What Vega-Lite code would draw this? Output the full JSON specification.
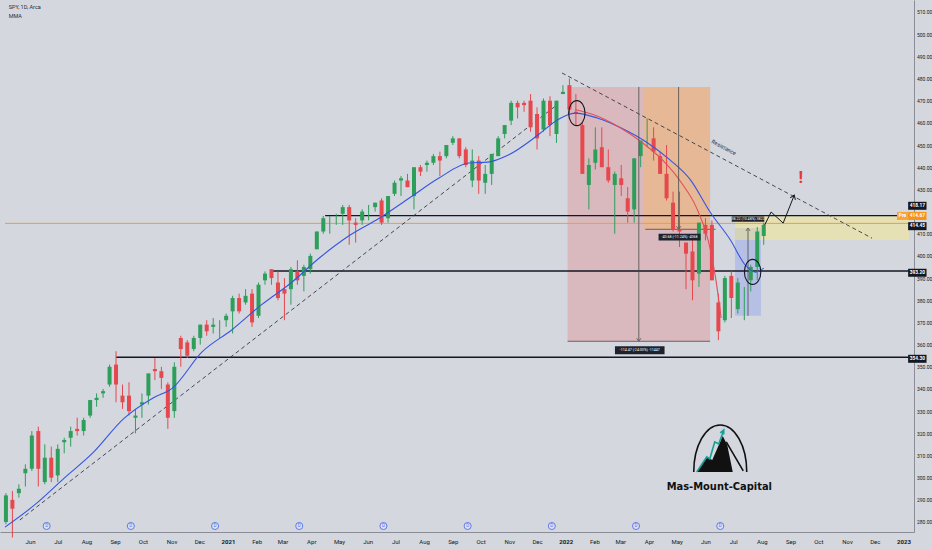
{
  "$schema": "https://vega.github.io/schema/vega-lite/v6.json",
  "width": 914,
  "height": 532,
  "padding": {"left": 0, "top": 0, "right": 18, "bottom": 18},
  "autosize": {"type": "none"},
  "background": "#d4d7de",
  "config": {"view": {"stroke": null}, "font": "Roboto"},
  "datasets": {
    "candles": [
      {"d":"2020-05-06","o":280,"h":293,"l":279,"c":292},
      {"d":"2020-05-13","o":290,"h":294,"l":273,"c":286},
      {"d":"2020-05-20","o":293,"h":297,"l":291,"c":295},
      {"d":"2020-05-27","o":302,"h":306,"l":296,"c":304},
      {"d":"2020-06-03","o":304,"h":321,"l":303,"c":319},
      {"d":"2020-06-10","o":321,"h":323,"l":296,"c":304},
      {"d":"2020-06-17","o":298,"h":315,"l":297,"c":309},
      {"d":"2020-06-24","o":309,"h":314,"l":298,"c":300},
      {"d":"2020-07-01","o":301,"h":315,"l":298,"c":313},
      {"d":"2020-07-08","o":316,"h":318,"l":311,"c":317},
      {"d":"2020-07-15","o":318,"h":323,"l":314,"c":321},
      {"d":"2020-07-22","o":322,"h":327,"l":319,"c":321},
      {"d":"2020-07-29","o":321,"h":327,"l":319,"c":326},
      {"d":"2020-08-05","o":328,"h":335,"l":327,"c":335},
      {"d":"2020-08-12","o":335,"h":338,"l":332,"c":336},
      {"d":"2020-08-19","o":338,"h":340,"l":336,"c":339},
      {"d":"2020-08-26","o":342,"h":351,"l":341,"c":350},
      {"d":"2020-09-02","o":351,"h":357,"l":334,"c":342},
      {"d":"2020-09-09","o":337,"h":342,"l":331,"c":334},
      {"d":"2020-09-16","o":337,"h":343,"l":328,"c":330},
      {"d":"2020-09-23","o":327,"h":331,"l":320,"c":328},
      {"d":"2020-09-30","o":333,"h":338,"l":327,"c":334},
      {"d":"2020-10-07","o":337,"h":347,"l":333,"c":347},
      {"d":"2020-10-14","o":349,"h":354,"l":344,"c":348},
      {"d":"2020-10-21","o":348,"h":350,"l":340,"c":345},
      {"d":"2020-10-28","o":342,"h":343,"l":322,"c":327},
      {"d":"2020-11-04","o":330,"h":352,"l":327,"c":350},
      {"d":"2020-11-11","o":363,"h":364,"l":350,"c":358},
      {"d":"2020-11-18","o":361,"h":362,"l":354,"c":355},
      {"d":"2020-11-25","o":358,"h":364,"l":357,"c":363},
      {"d":"2020-12-02","o":363,"h":369,"l":360,"c":369},
      {"d":"2020-12-09","o":369,"h":371,"l":364,"c":366},
      {"d":"2020-12-16","o":368,"h":372,"l":365,"c":369},
      {"d":"2020-12-23","o":369,"h":371,"l":363,"c":369},
      {"d":"2020-12-30","o":371,"h":374,"l":368,"c":373},
      {"d":"2021-01-06","o":375,"h":382,"l":365,"c":381},
      {"d":"2021-01-13","o":381,"h":383,"l":374,"c":375},
      {"d":"2021-01-20","o":379,"h":385,"l":378,"c":382},
      {"d":"2021-01-27","o":383,"h":385,"l":368,"c":370},
      {"d":"2021-02-03","o":373,"h":388,"l":372,"c":387},
      {"d":"2021-02-10","o":389,"h":393,"l":387,"c":392},
      {"d":"2021-02-17","o":394,"h":394,"l":387,"c":390},
      {"d":"2021-02-24","o":388,"h":393,"l":380,"c":381},
      {"d":"2021-03-03","o":385,"h":390,"l":371,"c":383},
      {"d":"2021-03-10","o":385,"h":395,"l":378,"c":394},
      {"d":"2021-03-17","o":393,"h":398,"l":387,"c":389},
      {"d":"2021-03-24","o":391,"h":396,"l":384,"c":395},
      {"d":"2021-03-31","o":394,"h":401,"l":392,"c":400},
      {"d":"2021-04-07","o":403,"h":411,"l":403,"c":411},
      {"d":"2021-04-14","o":411,"h":418,"l":410,"c":417},
      {"d":"2021-04-21","o":416,"h":418,"l":410,"c":416},
      {"d":"2021-04-28","o":418,"h":419,"l":414,"c":418},
      {"d":"2021-05-05","o":419,"h":423,"l":414,"c":422},
      {"d":"2021-05-12","o":422,"h":423,"l":405,"c":416},
      {"d":"2021-05-19","o":415,"h":417,"l":406,"c":414},
      {"d":"2021-05-26","o":416,"h":421,"l":414,"c":420},
      {"d":"2021-06-02","o":422,"h":423,"l":416,"c":422},
      {"d":"2021-06-09","o":422,"h":424,"l":420,"c":424},
      {"d":"2021-06-16","o":425,"h":426,"l":414,"c":415},
      {"d":"2021-06-23","o":417,"h":427,"l":415,"c":427},
      {"d":"2021-06-30","o":428,"h":434,"l":427,"c":433},
      {"d":"2021-07-07","o":434,"h":436,"l":427,"c":435},
      {"d":"2021-07-14","o":434,"h":437,"l":431,"c":431},
      {"d":"2021-07-21","o":427,"h":440,"l":421,"c":440},
      {"d":"2021-07-28","o":440,"h":441,"l":436,"c":438},
      {"d":"2021-08-04","o":441,"h":443,"l":438,"c":442},
      {"d":"2021-08-11","o":442,"h":446,"l":441,"c":445},
      {"d":"2021-08-18","o":445,"h":447,"l":436,"c":443},
      {"d":"2021-08-25","o":445,"h":450,"l":444,"c":450},
      {"d":"2021-09-01","o":451,"h":454,"l":450,"c":453},
      {"d":"2021-09-08","o":453,"h":453,"l":444,"c":445},
      {"d":"2021-09-15","o":448,"h":449,"l":440,"c":441},
      {"d":"2021-09-22","o":434,"h":448,"l":431,"c":443},
      {"d":"2021-09-29","o":443,"h":445,"l":428,"c":434},
      {"d":"2021-10-06","o":433,"h":441,"l":428,"c":437},
      {"d":"2021-10-13","o":437,"h":446,"l":432,"c":446},
      {"d":"2021-10-20","o":445,"h":454,"l":445,"c":453},
      {"d":"2021-10-27","o":455,"h":459,"l":453,"c":459},
      {"d":"2021-11-03","o":461,"h":470,"l":459,"c":469},
      {"d":"2021-11-10","o":469,"h":470,"l":462,"c":467},
      {"d":"2021-11-17","o":469,"h":470,"l":465,"c":468},
      {"d":"2021-11-24","o":470,"h":473,"l":456,"c":458},
      {"d":"2021-12-01","o":464,"h":467,"l":448,"c":453},
      {"d":"2021-12-08","o":457,"h":471,"l":456,"c":470},
      {"d":"2021-12-15","o":470,"h":472,"l":454,"c":459},
      {"d":"2021-12-22","o":455,"h":470,"l":451,"c":470},
      {"d":"2021-12-29","o":473,"h":477,"l":473,"c":474},
      {"d":"2022-01-05","o":477,"h":480,"l":464,"c":466},
      {"d":"2022-01-12","o":465,"h":473,"l":459,"c":464},
      {"d":"2022-01-19","o":459,"h":460,"l":437,"c":437},
      {"d":"2022-01-26","o":432,"h":444,"l":421,"c":441},
      {"d":"2022-02-02","o":442,"h":458,"l":439,"c":448},
      {"d":"2022-02-09","o":449,"h":458,"l":440,"c":440},
      {"d":"2022-02-16","o":440,"h":448,"l":433,"c":434},
      {"d":"2022-02-23","o":432,"h":438,"l":410,"c":437},
      {"d":"2022-03-02","o":435,"h":441,"l":427,"c":432},
      {"d":"2022-03-09","o":426,"h":431,"l":415,"c":420},
      {"d":"2022-03-16","o":421,"h":444,"l":415,"c":444},
      {"d":"2022-03-23","o":445,"h":452,"l":440,"c":452},
      {"d":"2022-03-30","o":452,"h":462,"l":449,"c":452},
      {"d":"2022-04-06","o":453,"h":458,"l":443,"c":447},
      {"d":"2022-04-13","o":445,"h":447,"l":437,"c":437},
      {"d":"2022-04-20","o":437,"h":450,"l":425,"c":426},
      {"d":"2022-04-27","o":424,"h":429,"l":411,"c":412},
      {"d":"2022-05-04","o":412,"h":429,"l":404,"c":411},
      {"d":"2022-05-11","o":406,"h":406,"l":385,"c":401},
      {"d":"2022-05-18","o":402,"h":409,"l":380,"c":389},
      {"d":"2022-05-25","o":392,"h":415,"l":386,"c":415},
      {"d":"2022-06-01","o":414,"h":417,"l":407,"c":410},
      {"d":"2022-06-08","o":414,"h":416,"l":389,"c":389},
      {"d":"2022-06-15","o":379,"h":383,"l":362,"c":366},
      {"d":"2022-06-22","o":371,"h":391,"l":370,"c":390},
      {"d":"2022-06-29","o":391,"h":393,"l":372,"c":381},
      {"d":"2022-07-06","o":376,"h":390,"l":374,"c":388},
      {"d":"2022-07-13","o":385,"h":386,"l":371,"c":385},
      {"d":"2022-07-20","o":389,"h":396,"l":384,"c":395},
      {"d":"2022-07-27","o":395,"h":413,"l":389,"c":411},
      {"d":"2022-08-03","o":409,"h":415,"l":405,"c":414}
    ],
    "ma": [
      {"d":"2020-05-05","p":277.7},{"d":"2020-06-06","p":287.7},{"d":"2020-07-08","p":299.8},
      {"d":"2020-08-09","p":311.6},{"d":"2020-09-10","p":326.5},{"d":"2020-10-12","p":335.9},
      {"d":"2020-11-02","p":340.4},{"d":"2020-12-04","p":356.7},{"d":"2021-01-05","p":366.6},
      {"d":"2021-02-06","p":377.9},{"d":"2021-03-10","p":387.8},{"d":"2021-04-11","p":399.5},
      {"d":"2021-05-13","p":409.4},{"d":"2021-06-14","p":417.1},{"d":"2021-07-16","p":426.1},
      {"d":"2021-08-17","p":435.1},{"d":"2021-09-18","p":441.9},{"d":"2021-10-09","p":442.3},
      {"d":"2021-10-31","p":445.5},{"d":"2021-12-02","p":454.5},{"d":"2021-12-23","p":461.3},
      {"d":"2022-01-11","p":464.4},{"d":"2022-02-04","p":462.2},{"d":"2022-03-02","p":457.7},
      {"d":"2022-03-29","p":451.4},{"d":"2022-04-24","p":443.2},{"d":"2022-05-16","p":434.2},
      {"d":"2022-06-06","p":419.8},{"d":"2022-06-28","p":407.2},{"d":"2022-07-14","p":395.9},
      {"d":"2022-07-25","p":392.7},{"d":"2022-08-03","p":394.5}
    ],
    "redline": [
      {"d":"2022-01-11","p":466.0},{"d":"2022-02-01","p":463.5},{"d":"2022-02-28","p":458.0},
      {"d":"2022-03-25","p":451.0},{"d":"2022-04-15","p":443.5},{"d":"2022-05-06","p":433.0},
      {"d":"2022-05-22","p":422.0},{"d":"2022-06-04","p":407.0},{"d":"2022-06-12","p":390.0},
      {"d":"2022-06-18","p":372.0}
    ],
    "dividends": [
      {"d":"2020-06-19","p":278.2},{"d":"2020-09-18","p":278.2},{"d":"2020-12-18","p":278.2},
      {"d":"2021-03-19","p":278.2},{"d":"2021-06-18","p":278.2},{"d":"2021-09-17","p":278.2},
      {"d":"2021-12-17","p":278.2},{"d":"2022-03-18","p":278.2},{"d":"2022-06-17","p":278.2}
    ]
  },
  "encoding": {
    "x": {"field":"d","type":"temporal","title":null,
      "scale":{"domain":[{"year":2020,"month":5,"date":5},{"year":2023,"month":1,"date":7}],"nice":false},
      "axis":{"title":null,"orient":"bottom","tickCount":{"interval":"month","step":1},
        "labelExpr":"datum.value < datetime(2020,4,20) ? '' : (month(datum.value)==0 ? timeFormat(datum.value,'%Y') : timeFormat(datum.value,'%b'))",
        "labelFontSize":6,"labelColor":"#131722",
        "labelFontWeight":{"condition":{"test":"month(datum.value)==0","value":"bold"},"value":"normal"},
        "ticks":false,"domainColor":"#8a8d96","labelPadding":6,"grid":false,"labelFlush":false,"labelOverlap":false,"zindex":0}},
    "y": {"field":"p","type":"quantitative","title":null,
      "scale":{"domain":[275.49,515.41],"nice":false,"zero":false},
      "axis":{"title":null,"orient":"right","values":[280,290,300,310,320,330,340,350,360,370,380,390,400,410,430,440,450,460,470,480,490,500,510],
        "format":".2f","labelFontSize":5,"labelColor":"#131722","ticks":false,"domainColor":"#8a8d96","labelPadding":2.5,"grid":false,"labelOverlap":false,"labelBound":false,"zindex":0}}
  },
  "layer": [
    {
      "data": {"values": [{"d":"2022-01-03","d2":"2022-06-06","p":476.2,"p2":361.5}]},
      "mark": {"type": "rect", "fill": "#e57373", "opacity": 0.3},
      "encoding": {"x2": {"field":"d2"}, "y2": {"field":"p2"}}
    },
    {
      "data": {"values": [{"d":"2022-03-26","d2":"2022-06-06","p":476.2,"p2":411.7}]},
      "mark": {"type": "rect", "fill": "#ffb74d", "opacity": 0.35},
      "encoding": {"x2": {"field":"d2"}, "y2": {"field":"p2"}}
    },
    {
      "data": {"values": [{"d":"2022-07-03","d2":"2022-07-31","p":412.6,"p2":373.0}]},
      "mark": {"type": "rect", "fill": "#7e96f0", "opacity": 0.35},
      "encoding": {"x2": {"field":"d2"}, "y2": {"field":"p2"}}
    },
    {
      "data": {"values": [{"d":"2022-07-03","d2":"2023-01-07","p":418.0,"p2":407.2}]},
      "mark": {"type": "rect", "fill": "#fff176", "opacity": 0.4},
      "encoding": {"x2": {"field":"d2"}, "y2": {"field":"p2"}}
    },
    {
      "data": {"values": [{"d":"2020-05-05","d2":"2023-01-07","p":414.67}]},
      "mark": {"type": "rule", "color": "#f59c2a", "strokeWidth": 1},
      "encoding": {"x2": {"field":"d2"}}
    },
    {
      "data": {"values": [
        {"d":"2021-04-16","d2":"2023-01-07","p":418.17},
        {"d":"2021-02-16","d2":"2023-01-07","p":393.2},
        {"d":"2020-09-02","d2":"2023-01-07","p":354.3}
      ]},
      "mark": {"type": "rule", "color": "#131722", "strokeWidth": 1.3},
      "encoding": {"x2": {"field":"d2"}}
    },
    {
      "data": {"values": [
        {"d":"2022-01-03","d2":"2022-06-06","p":361.5},
        {"d":"2022-03-28","d2":"2022-06-12","p":412.0}
      ]},
      "mark": {"type": "rule", "color": "#4a4a4a", "strokeWidth": 0.8},
      "encoding": {"x2": {"field":"d2"}}
    },
    {
      "data": {"values": [
        {"d":"2020-05-21","p":280.9,"d2":"2021-12-21","p2":467.6},
        {"d":"2021-12-28","p":482.5,"d2":"2022-11-28","p2":408.0}
      ]},
      "mark": {"type": "rule", "color": "#333842", "strokeWidth": 0.9, "strokeDash": [4, 3]},
      "encoding": {"x2": {"field":"d2"}, "y2": {"field":"p2"}}
    },
    {
      "data": {"name": "candles"},
      "mark": {"type": "rule", "strokeWidth": 1},
      "encoding": {
        "y": {"field":"l"},
        "y2": {"field":"h"},
        "color": {"condition":{"test":"datum.c >= datum.o","value":"#2e9e5b"},"value":"#e5484d"}
      }
    },
    {
      "data": {"name": "candles"},
      "mark": {"type": "bar", "width": 4},
      "encoding": {
        "y": {"field":"o"},
        "y2": {"field":"c"},
        "color": {"condition":{"test":"datum.c >= datum.o","value":"#2e9e5b"},"value":"#e5484d"}
      }
    },
    {
      "data": {"name": "ma"},
      "mark": {"type": "line", "color": "#3456e0", "strokeWidth": 1.1, "interpolate": "monotone"}
    },
    {
      "data": {"name": "redline"},
      "mark": {"type": "line", "color": "#e0505a", "strokeWidth": 1.1, "interpolate": "monotone"}
    },
    {
      "data": {"values": [
        {"d":"2022-03-21","p":476.2,"p2":362.0},
        {"d":"2022-05-03","p":476.2,"p2":412.5},
        {"d":"2022-07-17","p":373.0,"p2":412.0}
      ]},
      "mark": {"type": "rule", "color": "#4a4a4a", "strokeWidth": 0.8},
      "encoding": {"y2": {"field":"p2"}}
    },
    {
      "data": {"values": [{"d":"2022-03-21","p":361.5},{"d":"2022-05-03","p":412.0}]},
      "mark": {"type": "point", "shape": "M-0.7,-1 L0,0 L0.7,-1", "size": 36, "filled": false, "stroke": "#4a4a4a", "strokeWidth": 0.8, "opacity": 1}
    },
    {
      "data": {"values": [{"d":"2022-07-17","p":412.6}]},
      "mark": {"type": "point", "shape": "M-0.7,1 L0,0 L0.7,1", "size": 36, "filled": false, "stroke": "#4a4a4a", "strokeWidth": 0.8, "opacity": 1}
    },
    {
      "data": {"values": [
        {"d":"2022-03-22","p":357.5,"w":"wide"},
        {"d":"2022-05-04","p":408.5,"w":"mid"},
        {"d":"2022-07-17","p":416.6,"w":"small"}
      ]},
      "mark": {"type": "point", "shape": "M-3.1,-0.5 H3.1 V0.5 H-3.1 Z", "filled": true, "fill": "#1e222d", "opacity": 1, "strokeWidth": 0},
      "encoding": {
        "size": {"field":"w","type":"nominal","scale":{"domain":["wide","mid","small"],"range":[256,110,72]},"legend":null}
      }
    },
    {
      "data": {"values": [
        {"d":"2022-03-22","p":357.5,"t":"-114.47 (-24.00%) -11447"},
        {"d":"2022-05-04","p":408.5,"t":"-40.68 (-11.24%) -4068"},
        {"d":"2022-07-17","p":416.6,"t":"38.22 (10.48%) 3822"}
      ]},
      "mark": {"type": "text", "color": "#ffffff", "fontSize": 3.6, "baseline": "middle", "align": "center"},
      "encoding": {"text": {"field":"t"}}
    },
    {
      "data": {"values": [{"d":"2022-01-13","p":464.4},{"d":"2022-07-22","p":392.8}]},
      "mark": {"type": "point", "shape": "M0,-1.25 A0.82,1.25 0 1,1 0,1.25 A0.82,1.25 0 1,1 0,-1.25", "size": 400, "filled": false, "stroke": "#131722", "strokeWidth": 1.1, "opacity": 1}
    },
    {
      "data": {"values": [
        {"d":"2022-08-04","p":413.9},{"d":"2022-08-11","p":419.8},{"d":"2022-08-24","p":414.8},{"d":"2022-09-05","p":427.4}
      ]},
      "mark": {"type": "line", "color": "#131722", "strokeWidth": 1}
    },
    {
      "data": {"values": [{"d":"2022-09-05","p":427.4}]},
      "mark": {"type": "point", "shape": "M-0.7,1 L0,0 L0.7,1", "size": 64, "filled": false, "stroke": "#131722", "strokeWidth": 1, "opacity": 1, "angle": 22}
    },
    {
      "data": {"values": [{"d":"2022-09-12","p":435.1,"t":"!"}]},
      "mark": {"type": "text", "color": "#e53935", "fontSize": 17, "fontWeight": "bold", "baseline": "middle", "align": "center"},
      "encoding": {"text": {"field":"t"}}
    },
    {
      "data": {"values": [{"d":"2022-06-21","p":449.0,"t":"Resistance"}]},
      "mark": {"type": "text", "color": "#2a2e39", "fontSize": 5.5, "angle": 28, "baseline": "middle", "align": "center"},
      "encoding": {"text": {"field":"t"}}
    },
    {
      "data": {"values": [{"d":"2022-06-17","p":313.4}]},
      "mark": {"type": "point", "shape": "M-2.35,2.4 L-1.3,0.9 L-0.8,1.2 L0.25,-1.2 L0.7,-0.3 L1.25,2.4 Z", "size": 400, "filled": true, "fill": "#111111", "opacity": 1, "strokeWidth": 0}
    },
    {
      "data": {"values": [{"d":"2022-06-17","p":313.4}]},
      "mark": {"type": "point", "shape": "M-2.65,2.4 A2.65,4.7 0 0,1 2.65,2.4 M0.6,-0.6 L2.3,2.3", "size": 400, "filled": false, "stroke": "#111111", "strokeWidth": 1.6, "opacity": 1}
    },
    {
      "data": {"values": [{"d":"2022-06-17","p":313.4}]},
      "mark": {"type": "point", "shape": "M-2.35,2.4 L-1.35,0.9 L-1.05,1.1 L-0.55,-0.6 L-0.15,-0.4 L0.35,-1.8 M0.0,-1.5 L0.35,-1.8 L0.35,-1.35", "size": 400, "filled": false, "stroke": "#1a9e9a", "strokeWidth": 1.6, "opacity": 1}
    },
    {
      "data": {"values": [{"d":"2022-06-16","p":296.0,"t":"Mas-Mount-Capital"}]},
      "mark": {"type": "text", "color": "#111111", "fontSize": 11, "fontWeight": "bold", "font": "DejaVu Sans Condensed, Liberation Sans Narrow, Roboto", "baseline": "middle", "align": "center"},
      "encoding": {"text": {"field":"t"}}
    },
    {
      "data": {"name": "dividends"},
      "mark": {"type": "point", "shape": "circle", "size": 50, "filled": true, "fill": "#dfe2ea", "stroke": "#4f6ff0", "strokeWidth": 0.9, "opacity": 1}
    },
    {
      "data": {"name": "dividends"},
      "mark": {"type": "text", "text": "D", "fontSize": 4.5, "color": "#4f6ff0", "baseline": "middle", "align": "center"}
    },
    {
      "data": {"values": [{"d":"2020-05-09","p":512.3,"t":"SPY, 1D, Arca"},{"d":"2020-05-09","p":508.3,"t":"MMA"}]},
      "mark": {"type": "text", "color": "#2a2e39", "fontSize": 5.5, "baseline": "middle", "align": "left"},
      "encoding": {"text": {"field":"t"}}
    },
    {
      "data": {"values": [
        {"d":"2023-01-16","p":422.6},{"d":"2023-01-16","p":413.4},{"d":"2023-01-16","p":392.4},{"d":"2023-01-16","p":353.6}
      ]},
      "mark": {"type": "point", "shape": "M-2.3,-1 H2.3 V1 H-2.3 Z", "size": 64, "filled": true, "fill": "#131722", "opacity": 1, "strokeWidth": 0}
    },
    {
      "data": {"values": [{"d":"2023-01-16","p":418.0}]},
      "mark": {"type": "point", "shape": "M-2.3,-1 H2.3 V1 H-2.3 Z", "size": 64, "filled": true, "fill": "#f7931a", "opacity": 1, "strokeWidth": 0}
    },
    {
      "data": {"values": [{"d":"2022-12-31","p":418.0}]},
      "mark": {"type": "point", "shape": "M-1.4,-1 H1.4 V1 H-1.4 Z", "size": 64, "filled": true, "fill": "#f9a53a", "opacity": 1, "strokeWidth": 0}
    },
    {
      "data": {"values": [
        {"d":"2023-01-16","p":422.6,"t":"418.17"},{"d":"2023-01-16","p":418.0,"t":"414.67"},
        {"d":"2023-01-16","p":413.4,"t":"414.45"},{"d":"2023-01-16","p":392.4,"t":"393.20"},
        {"d":"2023-01-16","p":353.6,"t":"354.30"},{"d":"2022-12-31","p":418.0,"t":"Pre"}
      ]},
      "mark": {"type": "text", "color": "#ffffff", "fontSize": 4.8, "fontWeight": "bold", "baseline": "middle", "align": "center"},
      "encoding": {"text": {"field":"t"}}
    }
  ]
}
